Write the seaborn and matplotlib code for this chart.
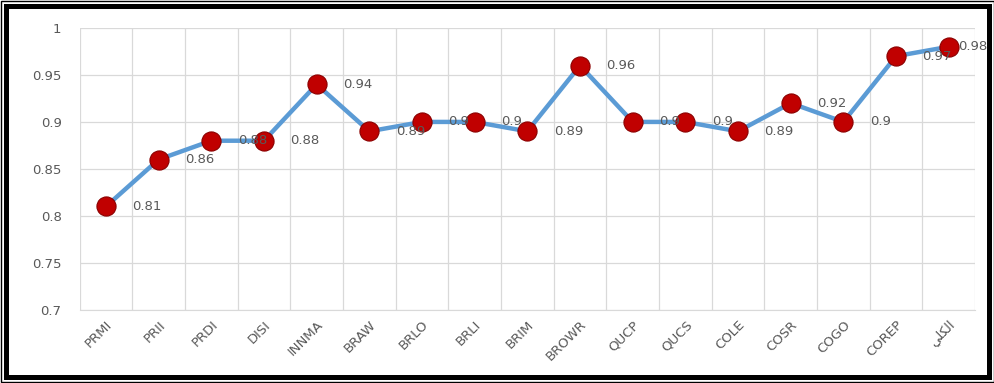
import numpy as np
import pandas as pd
import matplotlib
matplotlib.use("Agg")
import matplotlib.pyplot as plt
import matplotlib.patches as patches
import seaborn as sns

categories = ['PRMI', 'PRII', 'PRDI', 'DISI', 'INNMA', 'BRAW', 'BRLO', 'BRLI', 'BRIM',
              'BROWR', 'QUCP', 'QUCS', 'COLE', 'COSR', 'COGO', 'COREP', 'الكلي']
values = [0.81, 0.86, 0.88, 0.88, 0.94, 0.89, 0.9, 0.9, 0.89,
          0.96, 0.9, 0.9, 0.89, 0.92, 0.9, 0.97, 0.98]
y_ticks = [0.7, 0.75, 0.8, 0.85, 0.9, 0.95, 1]

# matplotlib has no Arabic shaping: use presentation forms in visual order
display_names = {'الكلي': '\ufef2\ufee0\ufedc\ufedf\ufe8d'}

df = pd.DataFrame({'pos': np.arange(len(categories)), 'value': values})

sns.set_style('white')
plt.rcParams['font.family'] = ['DejaVu Sans']
text_color = '#595959'

fig = plt.figure(figsize=(9.95, 3.83), dpi=100)
ax = fig.add_axes([0.080, 0.191, 0.900, 0.736])

sns.lineplot(data=df, x='pos', y='value', ax=ax, color='#5B9BD5', linewidth=3.2, zorder=2)
sns.scatterplot(data=df, x='pos', y='value', ax=ax, color='#C00000', s=190,
                edgecolor='#8B0000', linewidth=0.8, zorder=3)

n = len(categories)
for x, v in zip(df['pos'], df['value']):
    # last label sits tight against its marker (as Excel placed it)
    dx = 7 if x == n - 1 else 19
    ax.annotate(f'{v:g}', (x, v), xytext=(dx, 0), textcoords='offset points',
                ha='left', va='center', fontsize=9.5, color=text_color, zorder=4)

ax.set_xlim(-0.5, n - 0.5)
ax.set_ylim(0.7, 1.0)
ax.set_yticks(y_ticks)
ax.set_yticklabels([f'{t:g}' for t in y_ticks])
ax.set_xticks(df['pos'])
ax.set_xticklabels([display_names.get(c, c) for c in categories], rotation=45,
                   ha='right', rotation_mode='anchor')
ax.set_xticks(np.arange(-0.5, n, 1.0), minor=True)
ax.tick_params(axis='both', which='both', length=0, colors=text_color, labelsize=9.5)
ax.tick_params(axis='x', pad=6)
ax.tick_params(axis='y', pad=13)
ax.grid(axis='y', which='major', color='#D9D9D9', linewidth=0.9)
ax.grid(axis='x', which='minor', color='#D9D9D9', linewidth=0.9)
ax.set_xlabel('')
ax.set_ylabel('')
for s in ax.spines.values():
    s.set_visible(False)
ax.spines['bottom'].set_visible(True)
ax.spines['bottom'].set_color('#D9D9D9')

# outer frame
fig.patches.append(patches.Rectangle((0.0015, 0.003), 0.997, 0.994, transform=fig.transFigure,
                                     fill=False, edgecolor='black', linewidth=1.0))
fig.patches.append(patches.Rectangle((0.0065, 0.015), 0.987, 0.970, transform=fig.transFigure,
                                     fill=False, edgecolor='black', linewidth=3.6))

fig.savefig('out.png', dpi=100)
